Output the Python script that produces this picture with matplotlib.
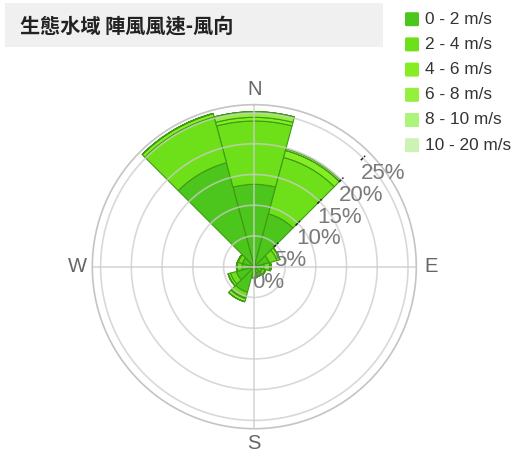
import numpy as np
import matplotlib
matplotlib.use("Agg")
import matplotlib.pyplot as plt
from matplotlib.patches import Rectangle, FancyBboxPatch

# ---- data ----
title = "生態水域 陣風風速-風向"
directions_deg = [0, 30, 60, 90, 120, 150, 180, 210, 240, 270, 300, 330]
speed_bins = ["0 - 2 m/s", "2 - 4 m/s", "4 - 6 m/s", "6 - 8 m/s", "8 - 10 m/s", "10 - 20 m/s"]
bin_colors = ["#4cc51c", "#6ee01a", "#84ee22", "#95f03e", "#acf47a", "#ccf3b4"]
# percentage per direction for each speed bin
v_0_2   = [13.4, 8.9, 2.5, 1.6, 1.3, 1.1, 1.3, 4.3, 3.0, 2.0, 2.0, 17.5]
v_2_4   = [10.3, 9.5, 1.3, 0.9, 0.5, 0.5, 0.4, 0.9, 1.0, 0.8, 0.7, 7.7]
v_4_6   = [0.6, 1.2, 0.5, 0.2, 0.1, 0.1, 0.1, 0.2, 0.4, 0.1, 0.1, 0.6]
v_6_8   = [0.9, 0.0, 0.0, 0.0, 0.0, 0.0, 0.0, 0.5, 0.0, 0.0, 0.0, 0.0]
v_8_10  = [0.0, 0.0, 0.0, 0.0, 0.0, 0.0, 0.0, 0.0, 0.0, 0.0, 0.0, 0.0]
v_10_20 = [0.0, 0.25, 0.0, 0.0, 0.0, 0.0, 0.0, 0.0, 0.0, 0.0, 0.0, 0.0]
series = [v_0_2, v_2_4, v_4_6, v_6_8, v_8_10, v_10_20]
ring_values = [0, 5, 10, 15, 20, 25]
compass = [("N", 0), ("E", 90), ("S", 180), ("W", 270)]
r_max = 26.35

W, H = 525, 462
fig = plt.figure(figsize=(W / 100, H / 100), dpi=100)
latin = ["Liberation Sans", "DejaVu Sans"]

# title box
fig.patches.append(Rectangle((5 / W, 1 - 47 / H), 378 / W, 44 / H, transform=fig.transFigure,
                             facecolor="#f1f0f1", edgecolor="none"))
fig.text(20 / W, 1 - 26 / H, title, fontsize=14.5, fontweight="bold", color="#222222",
         family=["Noto Sans CJK TC", "DejaVu Sans"], ha="left", va="center")

# legend
for i, (lab, col) in enumerate(zip(speed_bins, bin_colors)):
    yc = 19.2 + i * 25.2
    fig.patches.append(FancyBboxPatch((405 / W, 1 - (yc + 7) / H), 14 / W, 14 / H,
                                      boxstyle="round,pad=0,rounding_size=0.003",
                                      transform=fig.transFigure, facecolor=col, edgecolor="none"))
    fig.text(425 / W, 1 - yc / H, lab, fontsize=12.4, color="#333333", family=latin,
             ha="left", va="center")

# polar axes
cx, cy, R = 254.3, 266.7, 162
ax = fig.add_axes([(cx - R) / W, (H - cy - R) / H, 2 * R / W, 2 * R / H], projection="polar")
ax.set_theta_zero_location("N")
ax.set_theta_direction(-1)
ax.set_ylim(0, r_max)
ax.set_xticks([])
ax.set_yticks([])
ax.grid(False)
ax.spines["polar"].set_color("#c4c4c4")
ax.spines["polar"].set_linewidth(1.2)

theta = np.deg2rad(directions_deg)
width = np.deg2rad(30)
bottom = np.zeros(len(directions_deg))
for vals, col in zip(series, bin_colors):
    vals = np.array(vals)
    ax.bar(theta, vals, width=width, bottom=bottom, color=col, edgecolor="#3f9a14",
           linewidth=0.8, align="center", zorder=2)
    bottom += vals

# grid on top
tt = np.linspace(0, 2 * np.pi, 500)
for r in ring_values[1:]:
    ax.plot(tt, np.full_like(tt, r), color="#cccccc", lw=1.2, alpha=0.75, zorder=3)
for d in [0, 90]:
    a = np.deg2rad(d)
    ax.plot([a, a], [0, r_max], color="#cccccc", lw=1.2, alpha=0.8, zorder=3)
    ax.plot([a + np.pi, a + np.pi], [0, r_max], color="#cccccc", lw=1.2, alpha=0.8, zorder=3)

# radial ticks and labels along 45 degrees
a45 = np.deg2rad(45)
for r in ring_values:
    if r > 0:
        ax.plot([a45, a45], [r - 0.5, r + 0.5], color="#222222", lw=1.1, ls=(0, (2, 1)), zorder=4)
    ax.annotate(f"{r}%", xy=(a45, r), xytext=(-2 * 0.72, -15.7 * 0.72), textcoords="offset points",
                ha="left", va="center", fontsize=16, color="#7a7a7a", family=latin,
                zorder=5, annotation_clip=False)

# compass labels
for lab, d in compass:
    ax.text(np.deg2rad(d), r_max * 177 / 162, lab, ha="center", va="center", fontsize=14.5,
            color="#666666", family=latin, clip_on=False)

fig.savefig("out.png", dpi=100)
